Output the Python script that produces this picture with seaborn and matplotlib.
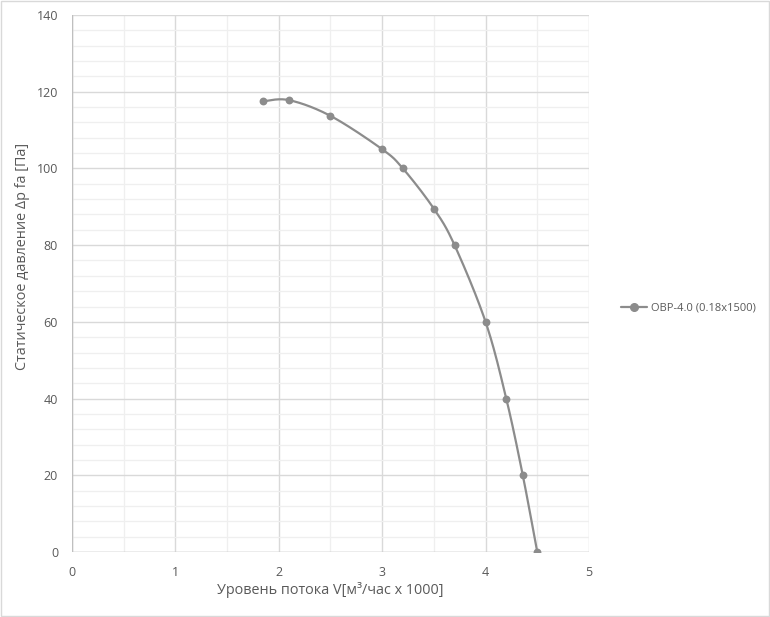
import numpy as np
import pandas as pd
import matplotlib
matplotlib.use("Agg")
import matplotlib.pyplot as plt
import seaborn as sns
from matplotlib.ticker import MultipleLocator

# data
flow = [1.85, 2.1, 2.5, 3.0, 3.2, 3.5, 3.7, 4.0, 4.2, 4.36, 4.5]
pressure = [117.5, 117.8, 113.7, 105.0, 100.0, 89.5, 80.0, 60.0, 40.0, 20.0, 0.0]
series_name = "OBP-4.0 (0.18x1500)"

df = pd.DataFrame({"flow": flow, "pressure": pressure})

sns.set_theme(style="white")
plt.rcParams["font.family"] = ["Open Sans", "DejaVu Sans"]

grey = "#8c8c8c"
text_col = "#595959"


def catmull_rom(x, y, n=30):
    # smooth line through the points, like Excel's "smoothed line"
    p = np.column_stack([x, y])
    p = np.vstack([p[0], p, p[-1]])
    out = []
    for i in range(1, len(p) - 2):
        p0, p1, p2, p3 = p[i - 1], p[i], p[i + 1], p[i + 2]
        t = np.linspace(0, 1, n)[:, None]
        seg = 0.5 * ((2 * p1) + (-p0 + p2) * t + (2 * p0 - 5 * p1 + 4 * p2 - p3) * t ** 2
                     + (-p0 + 3 * p1 - 3 * p2 + p3) * t ** 3)
        out.append(seg)
    s = np.vstack(out)
    return s[:, 0], s[:, 1]


fig = plt.figure(figsize=(7.7, 6.17), dpi=100)
ax = fig.add_axes([0.0935, 0.1053, 0.6714, 0.8704])

sx, sy = catmull_rom(df["flow"].values, df["pressure"].values)
ax.plot(sx, sy, color=grey, lw=1.6, zorder=3)
sns.scatterplot(data=df, x="flow", y="pressure", color=grey, s=32, edgecolor=grey,
                linewidth=0, ax=ax, zorder=4)

ax.set_xlim(0, 5)
ax.set_ylim(0, 140)
ax.xaxis.set_major_locator(MultipleLocator(1))
ax.xaxis.set_minor_locator(MultipleLocator(0.5))
ax.yaxis.set_major_locator(MultipleLocator(20))
ax.yaxis.set_minor_locator(MultipleLocator(4))
ax.grid(which="major", color="#d9d9d9", lw=1.0)
ax.grid(which="minor", color="#efefef", lw=0.9)
ax.set_axisbelow(True)
for sp in ax.spines.values():
    sp.set_visible(False)
ax.axvline(0, color="#bfbfbf", lw=1.0, zorder=2)
ax.axhline(0, color="#bfbfbf", lw=1.0, zorder=2)

ax.tick_params(axis="both", which="both", length=0, labelsize=9, labelcolor=text_col)
ax.tick_params(axis="x", pad=10)
ax.tick_params(axis="y", pad=10)

ax.set_xlabel("Уровень потока V[м³/час x 1000]", fontsize=10.4, color=text_col)
ax.set_ylabel("Статическое давление Δp fa [Па]", fontsize=10.4, color=text_col)
ax.xaxis.set_label_coords(0.5, -0.0708)
ax.yaxis.set_label_coords(-0.0948, 0.551)
ax.xaxis.label.set_va("center")
ax.yaxis.label.set_va("center")

handle = plt.Line2D([], [], color=grey, lw=1.6, marker="o", markersize=5.5)
fig.legend([handle], [series_name], loc="center left", bbox_to_anchor=(0.794, 0.5),
           frameon=False, fontsize=8, labelcolor=text_col, handlelength=2.35,
           handletextpad=0.3)

fig.patches.append(plt.Rectangle((0.001, 0.001), 0.998, 0.997, transform=fig.transFigure,
                                 fill=False, edgecolor="#d9d9d9", lw=1))

fig.savefig("out.png", dpi=100)
